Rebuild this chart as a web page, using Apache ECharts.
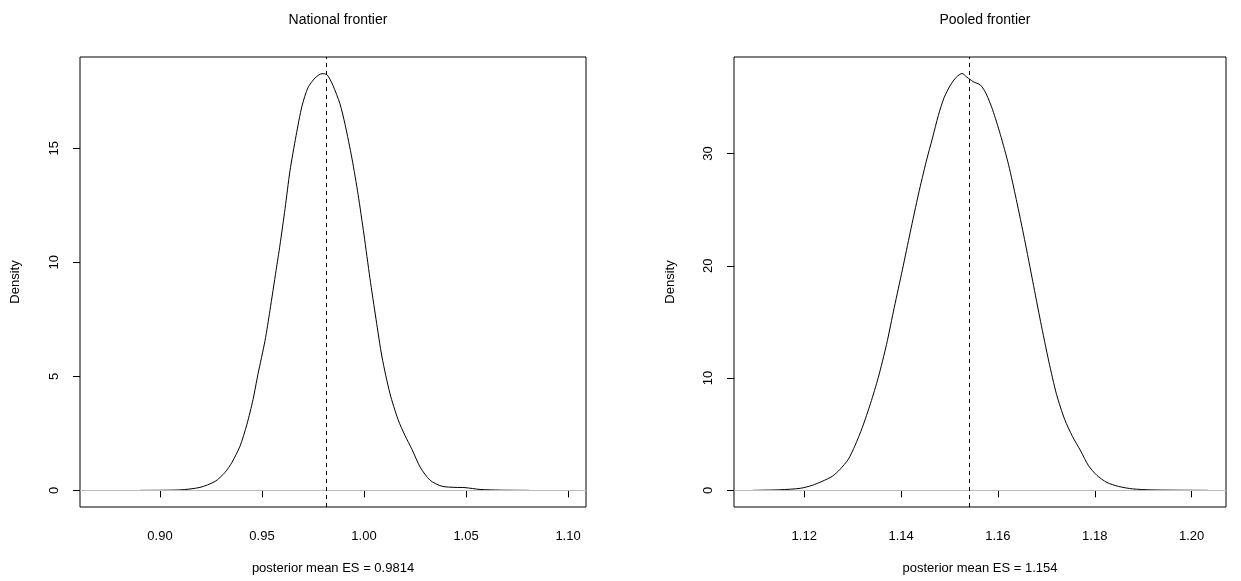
<!DOCTYPE html>
<html>
<head>
<meta charset="utf-8">
<script src="https://cdn.jsdelivr.net/npm/echarts@6/dist/echarts.min.js"></script>
<style>
html,body{margin:0;padding:0;background:#fff;}
#c{width:1241px;height:581px;}
</style>
</head>
<body>
<div id="c"></div>
<script>
// ---- Data ----
var titles = ['National frontier', 'Pooled frontier'];
var xNames = ['posterior mean ES = 0.9814', 'posterior mean ES = 1.154'];
var means = [0.9814, 1.154];

var leftX = [0.8902,0.9098,0.9196,0.9270,0.9319,0.9353,0.9392,0.9426,0.9456,0.9480,0.9515,0.9539,0.9569,0.9588,0.9613,0.9637,0.9667,0.9696,0.9725,0.9760,0.9794,0.9819,0.9848,0.9882,0.9907,0.9941,0.9971,1.0000,1.0029,1.0059,1.0088,1.0127,1.0167,1.0201,1.0235,1.0275,1.0324,1.0382,1.0446,1.0495,1.0569,1.0667,1.0809];
var leftY = [0,0.02,0.13,0.39,0.79,1.23,1.93,2.89,3.98,5.08,6.57,7.89,9.64,10.75,12.35,14.0,15.55,16.85,17.65,18.08,18.27,18.22,17.75,16.95,16.05,14.55,12.97,11.2,9.3,7.5,5.85,4.25,3.1,2.4,1.8,1.02,0.44,0.18,0.13,0.12,0.04,0.01,0];

var rightX = [1.1094,1.1150,1.1192,1.1217,1.1237,1.1258,1.1274,1.1291,1.1305,1.1320,1.1337,1.1353,1.1370,1.1386,1.1403,1.1419,1.1436,1.1452,1.1465,1.1477,1.1489,1.1502,1.1514,1.1526,1.1536,1.1549,1.1564,1.1576,1.1589,1.1605,1.1622,1.1638,1.1655,1.1672,1.1688,1.1705,1.1721,1.1738,1.1754,1.1771,1.1787,1.1804,1.1825,1.1849,1.1878,1.1916,1.1978,1.2033];
var rightY = [0,0.05,0.18,0.45,0.8,1.25,1.87,2.76,4.0,5.6,7.75,10.06,13.0,16.3,19.7,23.0,26.4,29.3,31.4,33.4,35.0,36.1,36.8,37.13,36.8,36.4,36.1,35.3,33.9,31.7,29.0,25.9,22.35,18.6,15.05,11.5,8.55,6.3,4.8,3.5,2.2,1.35,0.7,0.35,0.13,0.04,0.01,0];

var xTicksL = [0.90, 0.95, 1.00, 1.05, 1.10];
var yTicksL = [0, 5, 10, 15];
var xTicksR = [1.12, 1.14, 1.16, 1.18, 1.20];
var yTicksR = [0, 10, 20, 30];

var xRangeL = [0.8608, 1.1088], yRangeL = [-0.73, 19.0];
var xRangeR = [1.1055, 1.2071], yRangeR = [-1.485, 38.6];

function pairs(xs, ys){ return xs.map(function(v,i){ return [v, ys[i]]; }); }

var FONT = 'Liberation Sans, Arial, Helvetica, sans-serif';

function xAxisDef(idx, range, ticks, name, fmtDigits){
  return {
    type:'value', gridIndex: idx, min: range[0], max: range[1],
    name: name, nameLocation:'middle', nameGap: 55,
    nameTextStyle:{color:'#000', fontSize:13, fontFamily:FONT},
    axisLine:{show:false},
    axisTick:{show:true, length:7, inside:false, lineStyle:{color:'#000', width:1}, customValues: ticks},
    axisLabel:{show:true, color:'#000', fontSize:13, fontFamily:FONT, margin:23,
      customValues: ticks, formatter:function(v){ return v.toFixed(fmtDigits); }},
    splitLine:{show:false}
  };
}
function yAxisDef(idx, range, ticks, gap){
  return {
    type:'value', gridIndex: idx, min: range[0], max: range[1],
    name:'Density', nameLocation:'middle', nameGap: gap, nameRotate: 90,
    nameTextStyle:{color:'#000', fontSize:13, fontFamily:FONT},
    axisLine:{show:false},
    axisTick:{show:true, length:7, inside:false, lineStyle:{color:'#000', width:1}, customValues: ticks},
    axisLabel:{show:true, color:'#000', fontSize:13, fontFamily:FONT, margin:19, rotate:90,
      customValues: ticks, formatter:function(v){ return String(v); }},
    splitLine:{show:false}
  };
}

var chart = echarts.init(document.getElementById('c'), null, {renderer:'canvas'});
chart.setOption({
  backgroundColor:'#fff',
  animation:false,
  title:[
    {text: titles[0], left: 333, top: 8, textAlign:'center', textStyle:{fontSize:14, fontWeight:'normal', color:'#000', fontFamily:FONT}},
    {text: titles[1], left: 980, top: 8, textAlign:'center', textStyle:{fontSize:14, fontWeight:'normal', color:'#000', fontFamily:FONT}}
  ],
  grid:[
    {left:80, top:57, width:506, height:450, show:true, borderColor:'#000', borderWidth:1, backgroundColor:'transparent', containLabel:false},
    {left:734, top:57, width:492, height:450, show:true, borderColor:'#000', borderWidth:1, backgroundColor:'transparent', containLabel:false}
  ],
  xAxis:[
    xAxisDef(0, xRangeL, xTicksL, xNames[0], 2),
    xAxisDef(1, xRangeR, xTicksR, xNames[1], 2)
  ],
  yAxis:[
    yAxisDef(0, yRangeL, yTicksL, 58),
    yAxisDef(1, yRangeR, yTicksR, 57)
  ],
  series:[
    {type:'line', xAxisIndex:0, yAxisIndex:0, data: pairs(leftX, leftY), showSymbol:false, smooth:0.25,
     lineStyle:{color:'#000', width:1}, z:2, silent:true},
    {type:'line', xAxisIndex:1, yAxisIndex:1, data: pairs(rightX, rightY), showSymbol:false, smooth:0.25,
     lineStyle:{color:'#000', width:1}, z:2, silent:true},
    // zero lines (grey, drawn over the density as in R)
    {type:'line', xAxisIndex:0, yAxisIndex:0, data:[], z:3, silent:true,
     markLine:{silent:true, precision:4, symbol:['none','none'], label:{show:false}, lineStyle:{color:'#bebebe', width:1, type:'solid'}, data:[{yAxis:0}]}},
    {type:'line', xAxisIndex:1, yAxisIndex:1, data:[], z:3, silent:true,
     markLine:{silent:true, precision:4, symbol:['none','none'], label:{show:false}, lineStyle:{color:'#bebebe', width:1, type:'solid'}, data:[{yAxis:0}]}},
    // posterior mean lines (dashed)
    {type:'line', xAxisIndex:0, yAxisIndex:0, data:[], z:4, silent:true,
     markLine:{silent:true, precision:4, symbol:['none','none'], label:{show:false}, lineStyle:{color:'#000', width:1, type:[4,4]}, data:[{xAxis: means[0]}]}},
    {type:'line', xAxisIndex:1, yAxisIndex:1, data:[], z:4, silent:true,
     markLine:{silent:true, precision:4, symbol:['none','none'], label:{show:false}, lineStyle:{color:'#000', width:1, type:[4,4]}, data:[{xAxis: means[1]}]}}
  ]
});
</script>
</body>
</html>
